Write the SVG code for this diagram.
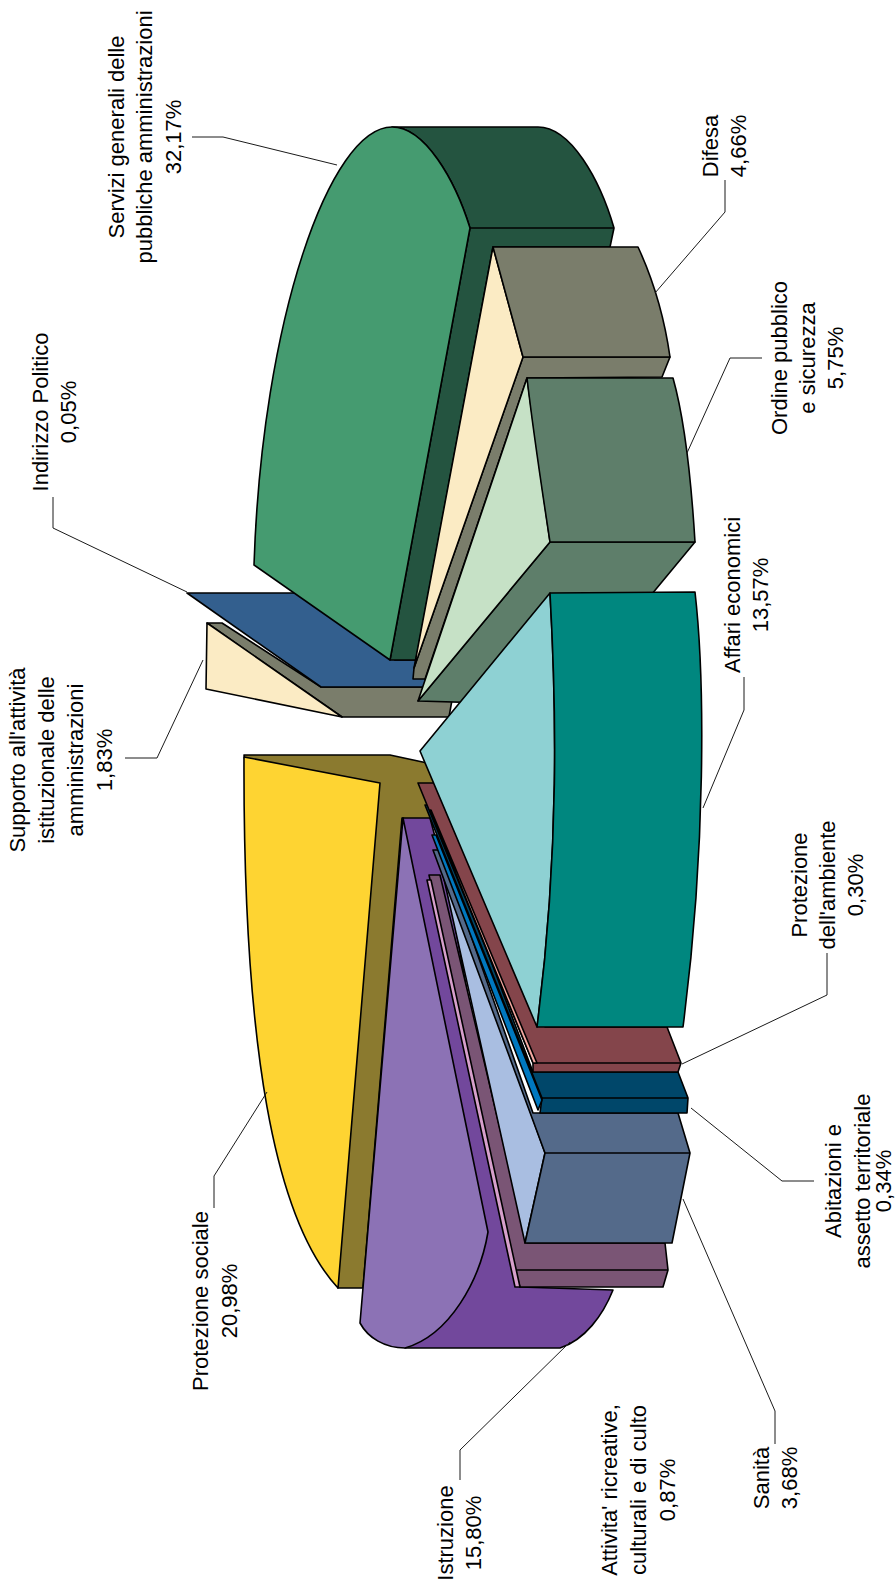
<svg xmlns="http://www.w3.org/2000/svg" width="896" height="1582" viewBox="0 0 896 1582">
<style>
.s{stroke:#000;stroke-width:1.6;stroke-linejoin:round}
.ln{fill:none;stroke:#000;stroke-width:1.6}
.ld{fill:none;stroke:#1a1a1a;stroke-width:1}
text{font-family:"Liberation Sans",Arial,sans-serif;font-size:22px;fill:#000;text-anchor:middle}
</style>
<rect width="896" height="1582" fill="#fff"/>
<g id="supporto">
<path class="s" fill="#7A7D6B" d="M207,623 L222,623 L321,687 L440,687 L452,700 L449,717 L342,717 Z"/>
<path class="s" fill="#FBEBC4" d="M207,623 L342,717 L206,689 Z"/>
<text transform="translate(25,760) rotate(-90)"><tspan x="0" y="0">Supporto all'attività</tspan><tspan x="0" y="29">istituzionale delle</tspan><tspan x="0" y="58">amministrazioni</tspan><tspan x="0" y="87">1,83%</tspan></text>
</g>
<g id="indirizzo">
<path class="s" fill="#335F8E" d="M187,593 L300,593 L395,660 L425,660 L425,687 L321,687 Z"/>
<text transform="translate(47.5,412) rotate(-90)"><tspan x="0" y="0">Indirizzo Politico</tspan><tspan x="0" y="28.5">0,05%</tspan></text>
</g>
<g id="servizi">
<path class="s" fill="#245440" d="M392,127 L538,127 C571,127 600,180 614,228 L610,247 L493,247 L416,660 L390,660 L470,228 C455,180 425,127 392,127 Z"/>
<path class="ln" d="M470,228 L614,228"/>
<path class="s" fill="#459B70" d="M392,127 C425,127 455,180 470,228 L390,660 L254,565 C262,320 330,127 392,127 Z"/>
<text transform="translate(123.5,137) rotate(-90)"><tspan x="0" y="0">Servizi generali delle</tspan><tspan x="0" y="28.5">pubbliche amministrazioni</tspan><tspan x="0" y="57">32,17%</tspan></text>
</g>
<g id="difesa">
<path class="s" fill="#7A7D6B" d="M523,357 L670,357 L662,377 L527,378 L425,679 L413,679 L414,668 Z"/>
<path class="s" fill="#FBEBC4" d="M493,247 L523,357 L414,668 Z"/>
<path class="s" fill="#7A7D6B" d="M493,247 L638,247 C651,275 664,315 670,357 L523,357 Z"/>
<text transform="translate(718,146) rotate(-90)"><tspan x="0" y="0">Difesa</tspan><tspan x="0" y="28">4,66%</tspan></text>
</g>
<g id="ordine">
<path class="s" fill="#5E7E6A" d="M550,542 L695,542 L560,705 L418,701 Z"/>
<path class="s" fill="#C6E1C6" d="M527,378 L550,542 L418,701 Z"/>
<path class="s" fill="#5E7E6A" d="M527,378 L673,378 C682,410 690,460 695,542 L550,542 C542,490 533,430 527,378 Z"/>
<text transform="translate(787,358) rotate(-90)"><tspan x="0" y="0">Ordine pubblico</tspan><tspan x="0" y="28">e sicurezza</tspan><tspan x="0" y="56">5,75%</tspan></text>
</g>
<g id="protezione-sociale">
<path class="s" fill="#8B7A2F" d="M244,755 L390,755 L432,764 L445,830 L402,818 L363,1288 L338,1288 Z"/>
<path class="s" fill="#FED432" d="M244,757 L380,783 L338,1288 C275,1220 243,1050 244,757 Z"/>
<text transform="translate(208,1301) rotate(-90)"><tspan x="0" y="0">Protezione sociale</tspan><tspan x="0" y="29">20,98%</tspan></text>
</g>
<g id="istruzione">
<path class="s" fill="#72489C" d="M403,818 L430,818 L448,885 L520,1287 L613,1290 C603,1315 585,1340 560,1348 L405,1348 Z"/>
<path class="s" fill="#8C72B5" d="M403,818 L488,1232 C480,1280 450,1335 405,1348 C385,1348 368,1338 360,1323 Z"/>
<text transform="translate(453,1533) rotate(-90)"><tspan x="0" y="0">Istruzione</tspan><tspan x="0" y="28">15,80%</tspan></text>
</g>
<g id="attivita">
<path class="s" fill="#7A5575" d="M429,875 L440,875 L527,1243 L665,1243 L668,1270 L663,1287 L520,1287 L515,1270 Z"/>
<path class="ln" d="M515,1270 L668,1270"/>
<path class="s" fill="#D7A0CC" d="M427,880 L431,880 L520,1287 L515,1287 Z"/>
<text transform="translate(617,1490) rotate(-90)"><tspan x="0" y="0">Attivita' ricreative,</tspan><tspan x="0" y="29">culturali e di culto</tspan><tspan x="0" y="58">0,87%</tspan></text>
</g>
<g id="sanita">
<path class="s" fill="#A9BEE1" d="M438,852 L545,1153 L525,1243 Z"/>
<path class="s" fill="#546A8A" d="M433,850 L441,850 L533,1113 L678,1113 L690,1153 L672,1243 L525,1243 L545,1153 Z"/>
<path class="ln" d="M545,1153 L690,1153"/>
<text transform="translate(769,1478) rotate(-90)"><tspan x="0" y="0">Sanità</tspan><tspan x="0" y="28">3,68%</tspan></text>
</g>
<g id="abitazioni">
<path class="s" fill="#00476A" d="M425,805 L432,805 L533,1072 L678,1072 L688,1098 L687,1113 L540,1113 L542,1098 Z"/>
<path class="ln" d="M542,1098 L688,1098"/>
<path class="s" fill="#0078BF" d="M432,835 L436,835 L542,1100 L538,1110 Z"/>
<text transform="translate(841,1181) rotate(-90)"><tspan x="0" y="0">Abitazioni e</tspan><tspan x="0" y="28.5">assetto territoriale</tspan><tspan x="0" y="50">0,34%</tspan></text>
</g>
<g id="ambiente">
<path class="s" fill="#84454B" d="M418,783 L445,783 L545,1027 L667,1027 L681,1063 L678,1072 L533,1072 L533,1063 Z"/>
<path class="ln" d="M533,1063 L681,1063"/>
<path class="s" fill="#F4A8A0" d="M430,810 L431,810 L537,1063 L533,1063 Z"/>
<text transform="translate(807,885) rotate(-90)"><tspan x="0" y="0">Protezione</tspan><tspan x="0" y="28">dell'ambiente</tspan><tspan x="0" y="56">0,30%</tspan></text>
</g>
<g id="affari">
<path class="s" fill="#8ED1D3" d="M550,593 L420,751 L537,1027 C560,850 556,700 550,593 Z"/>
<path class="s" fill="#00877F" d="M550,593 L695,592 C705,680 706,850 683,1027 L537,1027 C560,850 556,700 550,593 Z"/>
<text transform="translate(740,595) rotate(-90)"><tspan x="0" y="0">Affari economici</tspan><tspan x="0" y="28">13,57%</tspan></text>
</g>
<g id="connectors">
<path class="ld" d="M192,137 L223,137 L337,165"/>
<path class="ld" d="M53,497 L53,528 L187,592"/>
<path class="ld" d="M125,758 L157,758 L203,660"/>
<path class="ld" d="M725,180 L725,212 L655,293"/>
<path class="ld" d="M762,358 L730,358 L687,453"/>
<path class="ld" d="M744,677 L744,710 L703,808"/>
<path class="ld" d="M827,953 L827,995 L682,1064"/>
<path class="ld" d="M814,1181 L782,1181 L691,1108"/>
<path class="ld" d="M775,1444 L775,1411 L683,1199"/>
<path class="ld" d="M460,1480 L460,1450 L570,1342"/>
<path class="ld" d="M214,1208 L214,1176 L267,1092"/>
</g>
</svg>
